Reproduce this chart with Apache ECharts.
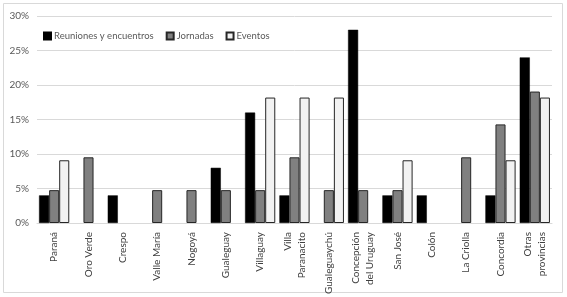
<!DOCTYPE html>
<html><head><meta charset="utf-8">
<script src="https://cdn.jsdelivr.net/npm/echarts@6/dist/echarts.min.js"></script>
<style>html,body{margin:0;padding:0;background:#fff}#c{width:567px;height:297px}</style>
</head><body><div id="c"></div>
<script>
var categories = ["Paraná","Oro Verde","Crespo","Valle María","Nogoyá","Gualeguay","Villaguay","Villa\nParanacito","Gualeguaychú","Concepción\ndel Uruguay","San José","Colón","La Criolla","Concordia","Otras\nprovincias"];
var reuniones = [4,0,4,0,0,8,16,4,0,28,4,4,0,4,24];
var jornadas = [4.76,9.52,0,4.76,4.76,4.76,4.76,9.52,4.76,4.76,4.76,0,9.52,14.29,19.05];
var eventos = [9.09,0,0,0,0,0,18.18,18.18,18.18,0,9.09,0,0,9.09,18.18];
var yTicks = [0,5,10,15,20,25,30];
var font = "Lato, 'Open Sans', sans-serif";
function nz(a){return a.map(function(v){return v===0?null:v;});}
var chart = echarts.init(document.getElementById('c'));
chart.setOption({
  animation:false,
  graphic:[{type:'rect',shape:{x:3.5,y:3.5,width:559,height:289},style:{fill:'none',stroke:'#d9d9d9',lineWidth:1}}],
  legend:{left:38,top:26,icon:'rect',itemWidth:7,itemHeight:7,itemGap:12,
    textStyle:{color:'#595959',fontSize:9.5,fontFamily:font,padding:[0,0,0,-2]},
    data:['Reuniones y encuentros','Jornadas','Eventos']},
  grid:{left:37,right:15,top:16,bottom:74},
  xAxis:{type:'category',data:categories,
    axisLine:{lineStyle:{color:'#d9d9d9'}},axisTick:{show:false},
    axisLabel:{rotate:90,color:'#404040',fontSize:10,fontFamily:font,margin:9,interval:0,lineHeight:14,align:'right'}},
  yAxis:{type:'value',min:yTicks[0],max:yTicks[yTicks.length-1],interval:5,
    axisLabel:{formatter:function(v){return v+'%';},color:'#595959',fontSize:10,fontFamily:font,margin:8},
    splitLine:{lineStyle:{color:'#d9d9d9'}},axisLine:{show:false},axisTick:{show:false}},
  series:[
    {name:'Reuniones y encuentros',type:'bar',data:nz(reuniones),barGap:'0%',barCategoryGap:'12%',
     itemStyle:{color:'#000000',borderColor:'#000000',borderWidth:0.5}},
    {name:'Jornadas',type:'bar',data:nz(jornadas),
     itemStyle:{color:'#808080',borderColor:'#262626',borderWidth:1}},
    {name:'Eventos',type:'bar',data:nz(eventos),
     itemStyle:{color:'#f2f2f2',borderColor:'#262626',borderWidth:1}}
  ]
});
</script></body></html>
